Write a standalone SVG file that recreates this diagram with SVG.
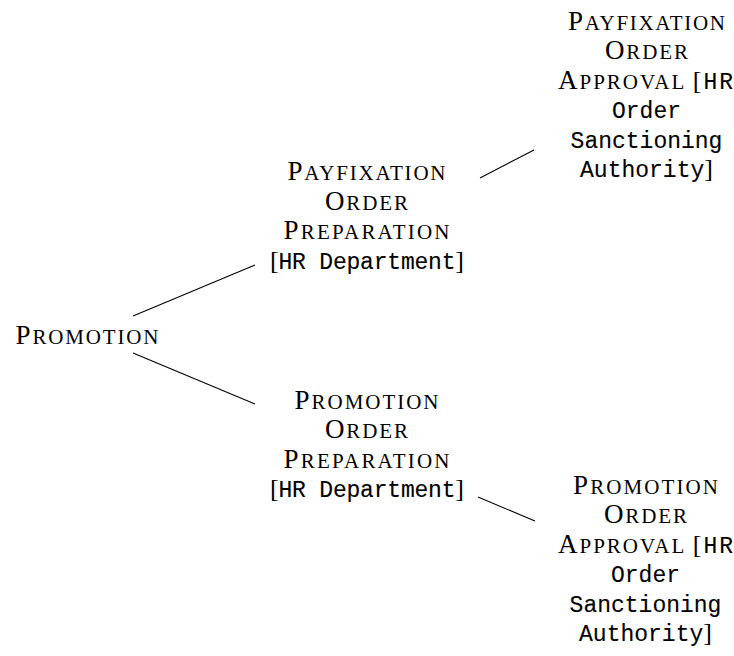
<svg xmlns="http://www.w3.org/2000/svg" width="734" height="656" viewBox="0 0 734 656">
  <style>
    .lbl { font-family: "Liberation Serif", "Times New Roman", serif; font-size: 21px; fill: #000; text-anchor: middle; }
    .cap { font-size: 27px; }
    .br  { font-family: "Liberation Serif", "Times New Roman", serif; font-size: 26px; }
    .tt  { font-family: "Liberation Mono", "Courier New", monospace; font-size: 23px; stroke: #000; stroke-width: 0.12; }
    .edge { stroke: #000; stroke-width: 1.1; fill: none; }
  </style>

  <rect x="0" y="0" width="734" height="656" fill="#fff"/>

  <!-- connectors -->
  <g id="connectors">
    <line class="edge" x1="133" y1="316" x2="255" y2="265"/>
    <line class="edge" x1="133" y1="353" x2="255" y2="404"/>
    <line class="edge" x1="480" y1="178" x2="534" y2="150"/>
    <line class="edge" x1="478" y1="497" x2="535" y2="521"/>
  </g>

  <!-- root -->
  <g id="promotion">
    <text class="lbl" x="87" y="344" textLength="143"><tspan class="cap">P</tspan>ROMOTION</text>
  </g>

  <!-- upper branch -->
  <g id="payfixation-preparation">
    <text class="lbl" x="366.5" y="180" textLength="158"><tspan class="cap">P</tspan>AYFIXATION</text>
    <text class="lbl" x="366.5" y="209.5" textLength="83"><tspan class="cap">O</tspan>RDER</text>
    <text class="lbl" x="366.5" y="239" textLength="166"><tspan class="cap">P</tspan>REPARATION</text>
    <text class="lbl" x="367" y="268.5" textLength="194"><tspan class="br">[</tspan><tspan class="tt">HR Department</tspan><tspan class="br">]</tspan></text>
  </g>

  <g id="payfixation-approval">
    <text class="lbl" x="646.5" y="29.5" textLength="157"><tspan class="cap">P</tspan>AYFIXATION</text>
    <text class="lbl" x="646.5" y="59" textLength="83"><tspan class="cap">O</tspan>RDER</text>
    <text class="lbl" x="645.5" y="88.5" textLength="175"><tspan class="cap">A</tspan>PPROVAL <tspan class="br">[</tspan><tspan class="tt">HR</tspan></text>
    <text class="lbl" x="646.5" y="118"><tspan class="tt">Order</tspan></text>
    <text class="lbl" x="646.5" y="147.5"><tspan class="tt">Sanctioning</tspan></text>
    <text class="lbl" x="646.5" y="177"><tspan class="tt">Authority</tspan><tspan class="br">]</tspan></text>
  </g>

  <!-- lower branch -->
  <g id="promotion-preparation">
    <text class="lbl" x="366.5" y="408.5" textLength="144"><tspan class="cap">P</tspan>ROMOTION</text>
    <text class="lbl" x="366.5" y="438" textLength="83"><tspan class="cap">O</tspan>RDER</text>
    <text class="lbl" x="366.5" y="467.5" textLength="166"><tspan class="cap">P</tspan>REPARATION</text>
    <text class="lbl" x="367" y="497" textLength="194"><tspan class="br">[</tspan><tspan class="tt">HR Department</tspan><tspan class="br">]</tspan></text>
  </g>

  <g id="promotion-approval">
    <text class="lbl" x="645.5" y="493.5" textLength="145"><tspan class="cap">P</tspan>ROMOTION</text>
    <text class="lbl" x="645.5" y="523" textLength="83"><tspan class="cap">O</tspan>RDER</text>
    <text class="lbl" x="645.5" y="552.5" textLength="175"><tspan class="cap">A</tspan>PPROVAL <tspan class="br">[</tspan><tspan class="tt">HR</tspan></text>
    <text class="lbl" x="645.5" y="582"><tspan class="tt">Order</tspan></text>
    <text class="lbl" x="645.5" y="611.5"><tspan class="tt">Sanctioning</tspan></text>
    <text class="lbl" x="645.5" y="641"><tspan class="tt">Authority</tspan><tspan class="br">]</tspan></text>
  </g>
</svg>
